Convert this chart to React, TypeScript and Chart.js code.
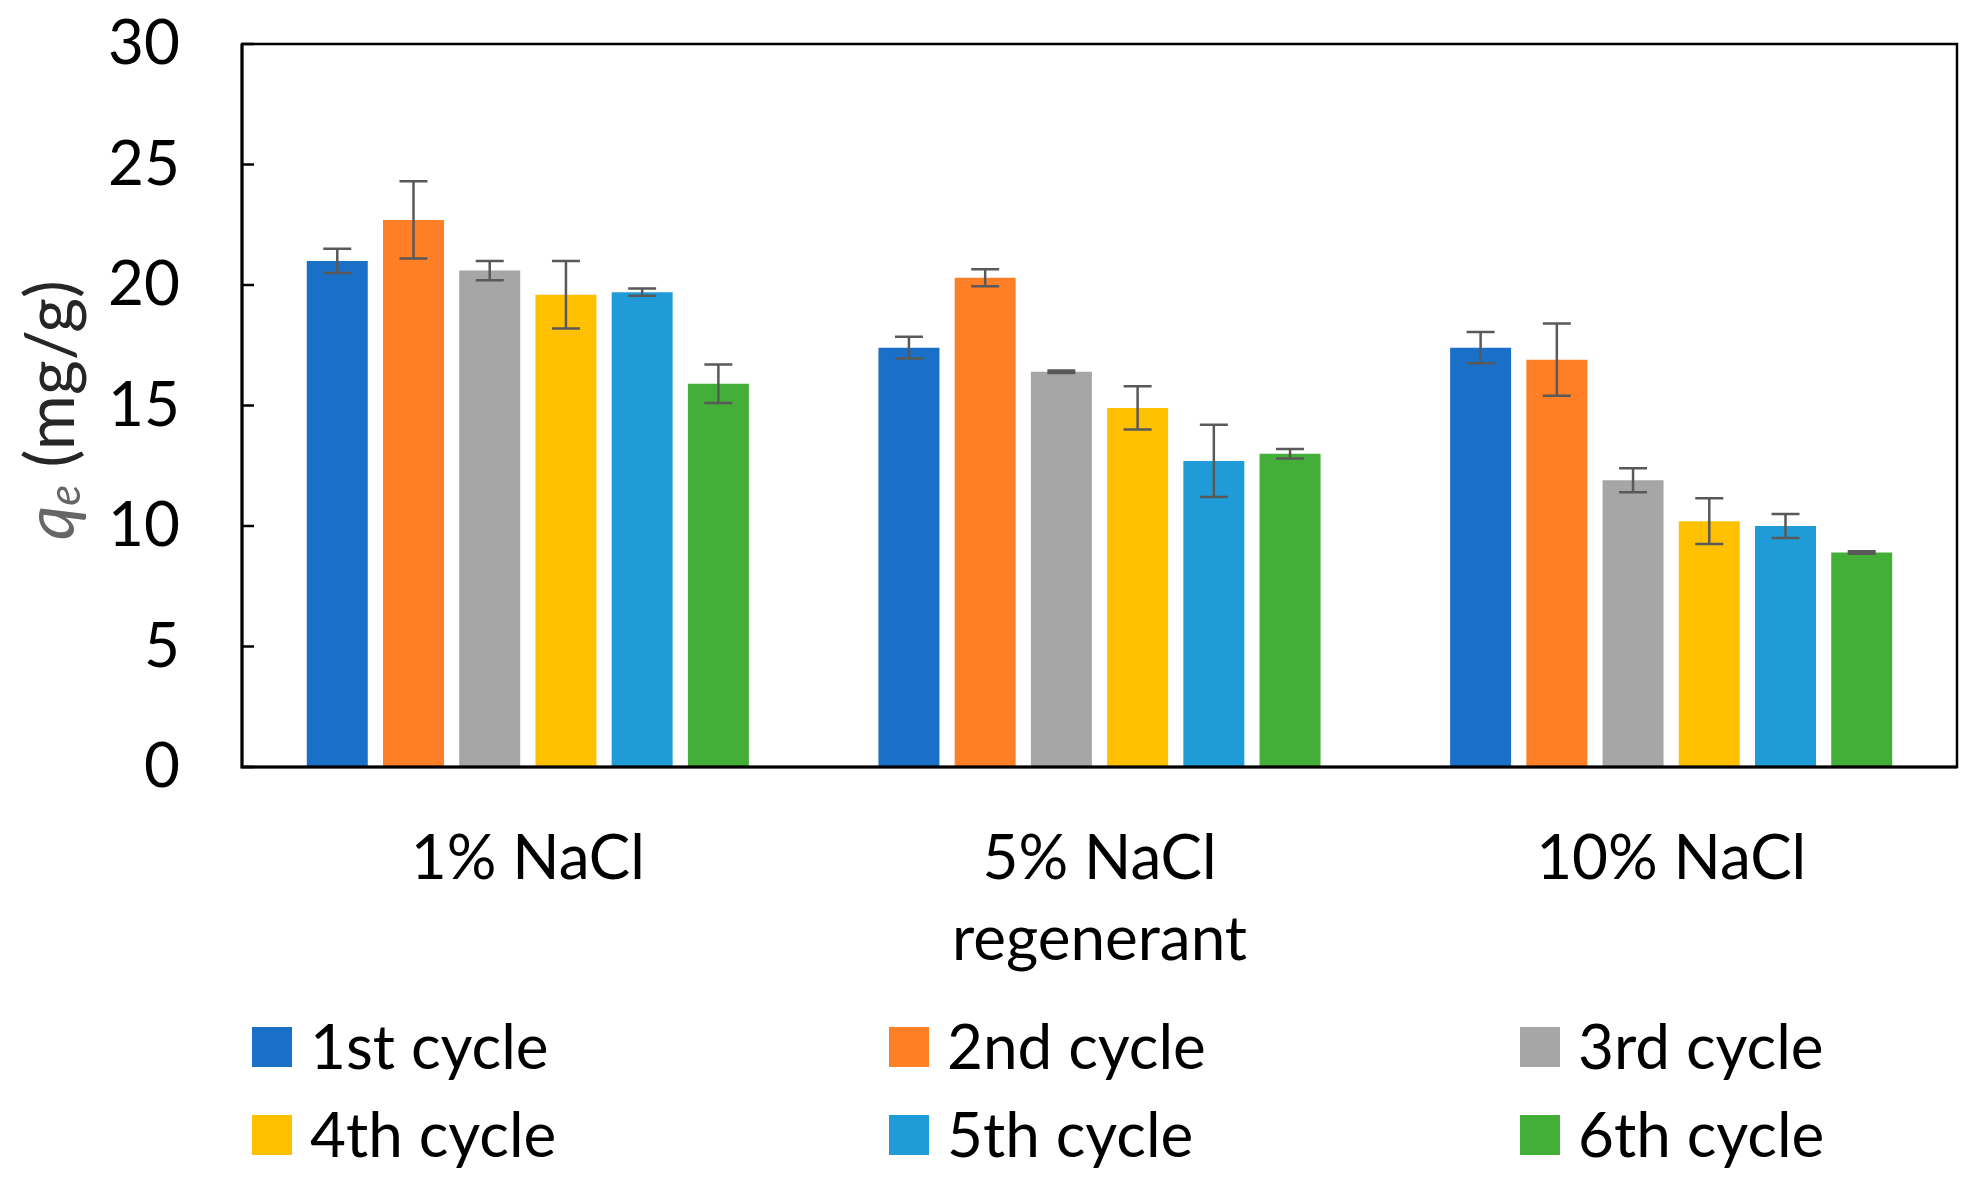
import React, { useEffect, useRef } from "react";
import { Chart, registerables } from "chart.js";

Chart.register(...registerables);

const categories: (string | string[])[] = ["1% NaCl", ["5% NaCl", "regenerant"], "10% NaCl"];
const seriesNames = ["1st cycle", "2nd cycle", "3rd cycle", "4th cycle", "5th cycle", "6th cycle"];
const seriesColors = ["#1A70C6", "#FF7F27", "#A6A6A6", "#FFC000", "#1F9BD7", "#43AE38"];

const cycle1 = [21.0, 17.4, 17.4];
const cycle2 = [22.7, 20.3, 16.9];
const cycle3 = [20.6, 16.4, 11.9];
const cycle4 = [19.6, 14.9, 10.2];
const cycle5 = [19.7, 12.7, 10.0];
const cycle6 = [15.9, 13.0, 8.9];

const err1 = [0.5, 0.45, 0.65];
const err2 = [1.6, 0.35, 1.5];
const err3 = [0.4, 0.05, 0.5];
const err4 = [1.4, 0.9, 0.95];
const err5 = [0.15, 1.5, 0.5];
const err6 = [0.8, 0.2, 0.05];

const yTicks = [0, 5, 10, 15, 20, 25, 30];

const FONT = "Lato, 'Open Sans', sans-serif";
const FS = 62;
const TS = 67;

export default function App() {
  const ref = useRef<HTMLCanvasElement | null>(null);
  useEffect(() => {
    const values = [cycle1, cycle2, cycle3, cycle4, cycle5, cycle6];
    const errors = [err1, err2, err3, err4, err5, err6];

    const errorBars = {
      id: "errorBars",
      afterDatasetsDraw(chart: any) {
        const ctx = chart.ctx;
        const y = chart.scales.y;
        ctx.save();
        ctx.strokeStyle = "#595959";
        ctx.lineWidth = 2.5;
        chart.data.datasets.forEach((ds: any, i: number) => {
          const meta = chart.getDatasetMeta(i);
          meta.data.forEach((el: any, j: number) => {
            const v = ds.data[j];
            const e = errors[i][j];
            const top = y.getPixelForValue(v + e);
            const bot = y.getPixelForValue(v - e);
            const x = el.x;
            const cap = 14;
            ctx.beginPath();
            ctx.moveTo(x, top);
            ctx.lineTo(x, bot);
            ctx.moveTo(x - cap, top);
            ctx.lineTo(x + cap, top);
            ctx.moveTo(x - cap, bot);
            ctx.lineTo(x + cap, bot);
            ctx.stroke();
          });
        });
        ctx.restore();
      },
    };

    const frame = {
      id: "frame",
      afterDraw(chart: any) {
        const ctx = chart.ctx;
        const a = chart.chartArea;
        const y = chart.scales.y;
        ctx.save();
        ctx.strokeStyle = "#000";
        ctx.lineWidth = 2.5;
        ctx.strokeRect(a.left, a.top, a.right - a.left, a.bottom - a.top);
        ctx.lineWidth = 3;
        ctx.beginPath();
        ctx.moveTo(a.left, a.top);
        ctx.lineTo(a.left, a.bottom);
        ctx.lineTo(a.right, a.bottom);
        ctx.stroke();
        ctx.lineWidth = 2.5;
        y.ticks.forEach((t: any) => {
          const py = y.getPixelForValue(t.value);
          ctx.beginPath();
          ctx.moveTo(a.left, py);
          ctx.lineTo(a.left + 12, py);
          ctx.stroke();
        });
        // y axis title
        ctx.translate(52, 410);
        ctx.rotate(-Math.PI / 2);
        ctx.textBaseline = "middle";
        ctx.font = `italic ${TS}px ${FONT}`;
        const qW = ctx.measureText("q").width;
        ctx.font = `italic 44px ${FONT}`;
        const eW = ctx.measureText("e").width;
        ctx.font = `${TS}px ${FONT}`;
        const restW = ctx.measureText(" (mg/g)").width;
        const total = qW + eW + restW;
        let x0 = -total / 2;
        ctx.fillStyle = "#666666";
        ctx.textAlign = "left";
        ctx.font = `italic ${TS}px ${FONT}`;
        ctx.fillText("q", x0, 0);
        x0 += qW;
        ctx.font = `italic 44px ${FONT}`;
        ctx.fillText("e", x0, 14);
        x0 += eW;
        ctx.fillStyle = "#262626";
        ctx.font = `${TS}px ${FONT}`;
        ctx.fillText(" (mg/g)", x0, 0);
        ctx.restore();

        // legend
        const cols = [252, 889, 1520];
        const rows = [1047, 1135];
        ctx.save();
        ctx.font = `${FS}px ${FONT}`;
        ctx.textBaseline = "middle";
        ctx.textAlign = "left";
        chart.data.datasets.forEach((ds: any, i: number) => {
          const cx = cols[i % 3];
          const cy = rows[Math.floor(i / 3)];
          ctx.fillStyle = ds.backgroundColor;
          ctx.fillRect(cx, cy - 20, 40, 40);
          ctx.fillStyle = "#000";
          ctx.fillText(ds.label, cx + 58, cy + 2);
        });
        ctx.restore();
      },
    };

    const chart = new Chart(ref.current as HTMLCanvasElement, {
      type: "bar",
      data: {
        labels: categories,
        datasets: seriesNames.map((n, i) => ({
          label: n,
          data: values[i],
          backgroundColor: seriesColors[i],
          categoryPercentage: 0.8,
          barPercentage: 0.8,
        })),
      },
      options: {
        animation: false,
        responsive: true,
        maintainAspectRatio: false,
        layout: { padding: { left: 0, top: 44, right: 20, bottom: 0 } },
        plugins: { legend: { display: false }, tooltip: { enabled: false } },
        scales: {
          x: {
            grid: { display: true, drawOnChartArea: false, drawTicks: true, tickLength: 50, color: "rgba(0,0,0,0)" },
            border: { display: false },
            ticks: { color: "#000", padding: 2, font: { family: FONT, size: FS, lineHeight: 1.3 } },
            afterFit(scale: any) {
              scale.height = 433;
            },
          },
          y: {
            min: 0,
            max: 30,
            afterBuildTicks(scale: any) {
              scale.ticks = yTicks.map((v) => ({ value: v }));
            },
            grid: { display: true, drawOnChartArea: false, drawTicks: true, tickLength: 60, color: "rgba(0,0,0,0)" },
            border: { display: false },
            ticks: { color: "#000", padding: 2, font: { family: FONT, size: FS } },
            afterFit(scale: any) {
              scale.width = 242;
            },
          },
        },
      },
      plugins: [errorBars, frame],
    });
    return () => chart.destroy();
  }, []);
  return (
    <div style={{ position: "absolute", left: 0, top: 0, width: 1977, height: 1200, background: "#fff" }}>
      <canvas ref={ref} />
    </div>
  );
}
